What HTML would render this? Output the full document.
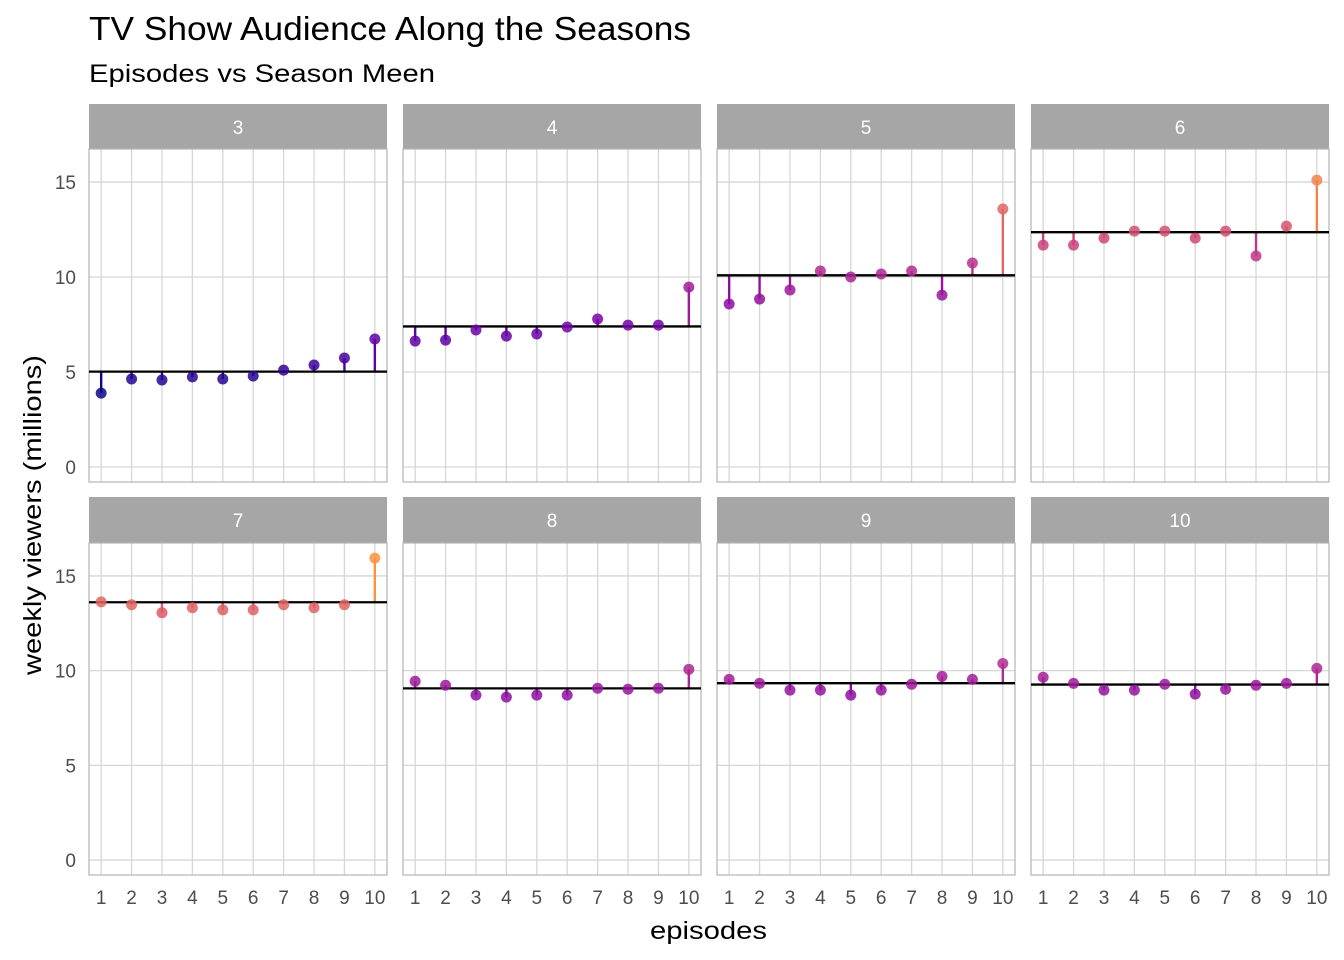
<!DOCTYPE html>
<html><head><meta charset="utf-8"><style>
body{margin:0;background:#fff}
svg{display:block;font-family:"Liberation Sans",Arial,sans-serif}
</style></head><body>
<svg id="chart" width="1344" height="960">
<text x="89" y="40" font-size="33" textLength="602" lengthAdjust="spacingAndGlyphs" fill="#000">TV Show Audience Along the Seasons</text>
<text x="89" y="82" font-size="25" textLength="346" lengthAdjust="spacingAndGlyphs" fill="#000">Episodes vs Season Meen</text>
<text x="650" y="939" font-size="25" textLength="117" lengthAdjust="spacingAndGlyphs" fill="#000">episodes</text>
<text transform="translate(41,675) rotate(-90)" font-size="25" textLength="320" lengthAdjust="spacingAndGlyphs" fill="#000">weekly viewers (millions)</text>
<g id="panels"></g>
</svg>
<script>
const seasons=[3,4,5,6,7,8,9,10];
const episodes=[1,2,3,4,5,6,7,8,9,10];
const viewers3=[3.89,4.63,4.58,4.74,4.63,4.79,5.10,5.37,5.74,6.74];
const viewers4=[6.63,6.68,7.21,6.89,7.00,7.37,7.79,7.47,7.47,9.47];
const viewers5=[8.58,8.84,9.32,10.32,10.00,10.16,10.32,9.05,10.74,13.58];
const viewers6=[11.68,11.68,12.05,12.42,12.42,12.05,12.42,11.11,12.68,15.10];
const viewers7=[13.63,13.48,13.06,13.32,13.21,13.21,13.48,13.32,13.48,15.94];
const viewers8=[9.44,9.23,8.71,8.60,8.71,8.71,9.07,9.02,9.07,10.07];
const viewers9=[9.54,9.33,8.97,8.97,8.71,8.97,9.28,9.70,9.54,10.38];
const viewers10=[9.65,9.33,8.97,8.97,9.28,8.76,9.02,9.23,9.33,10.12];
const yTicks=[0,5,10,15];
const allSeries=[viewers3,viewers4,viewers5,viewers6,viewers7,viewers8,viewers9,viewers10];

const NS="http://www.w3.org/2000/svg";
const g=document.getElementById('panels');
function el(tag,attrs,parent){const e=document.createElementNS(NS,tag);for(const k in attrs)e.setAttribute(k,attrs[k]);(parent||g).appendChild(e);return e;}
const stops=[[13,8,135],[76,2,161],[126,3,168],[169,35,149],[204,71,120],[230,108,92],[248,149,64]];
function plasma(t){t=Math.max(0,Math.min(1,t))*(stops.length-1);const i=Math.min(Math.floor(t),stops.length-2),f=t-i;const a=stops[i],b=stops[i+1];return `rgb(${a.map((v,k)=>Math.round(v+(b[k]-v)*f)).join(',')})`;}
const flat=allSeries.flat();const vmin=Math.min(...flat),vmax=Math.max(...flat);
const colorOf=v=>plasma((v-vmin)/(vmax-vmin));
const panelX=[89,403,717,1031],PW=298;
const rows=[{strip:104,top:149,bot:482},{strip:497,top:543,bot:875}];
const yDom=[-0.79,16.74],xDom=[0.6,10.4];

seasons.forEach((s,si)=>{
  const col=si%4,row=Math.floor(si/4);const L=panelX[col],R=L+PW;const r=rows[row];
  const xs=e=>L+(e-xDom[0])/(xDom[1]-xDom[0])*PW;
  const ys=v=>r.bot-(v-yDom[0])/(yDom[1]-yDom[0])*(r.bot-r.top);
  const pg=el('g',{});
  
  
  const strip=el('rect',{x:L,y:r.strip,width:PW,height:r.top-r.strip,fill:'#a6a6a6'},pg);
  
  
  const st=el('text',{x:L+PW/2,y:r.strip+30,'font-size':19,fill:'#fff','text-anchor':'middle'},pg);st.textContent=s;
  
  
  yTicks.forEach(v=>{el('line',{x1:L,x2:R,y1:ys(v),y2:ys(v),stroke:'#d6d6d6','stroke-width':1.3},pg);
    if(col===0){const t=el('text',{x:L-13,y:ys(v)+7,'font-size':19,fill:'#4d4d4d','text-anchor':'end'},pg);t.textContent=v;
      
      }});
  episodes.forEach(e=>{el('line',{x1:xs(e),x2:xs(e),y1:r.top,y2:r.bot,stroke:'#d6d6d6','stroke-width':1.3},pg);
    if(row===1){const t=el('text',{x:xs(e),y:r.bot+29,'font-size':19,fill:'#4d4d4d','text-anchor':'middle'},pg);t.textContent=e;
      
      }});
  el('rect',{x:L,y:r.top,width:PW,height:r.bot-r.top,fill:'none',stroke:'#b3b3b3','stroke-width':1.2},pg);
  const vals=allSeries[si];const mean=vals.reduce((a,b)=>a+b,0)/vals.length;
  vals.forEach((v,i)=>{const seg=el('line',{x1:xs(episodes[i]),x2:xs(episodes[i]),y1:ys(mean),y2:ys(v),stroke:colorOf(v),'stroke-width':2.4},pg);
    
    });
  const ml=el('line',{x1:L,x2:R,y1:ys(mean),y2:ys(mean),stroke:'#000','stroke-width':2.3},pg);
  
  
  vals.forEach((v,i)=>{const c=el('circle',{cx:xs(episodes[i]),cy:ys(v),r:5.5,fill:colorOf(v),'fill-opacity':0.85},pg);
    
    });
});
</script>
</body></html>
